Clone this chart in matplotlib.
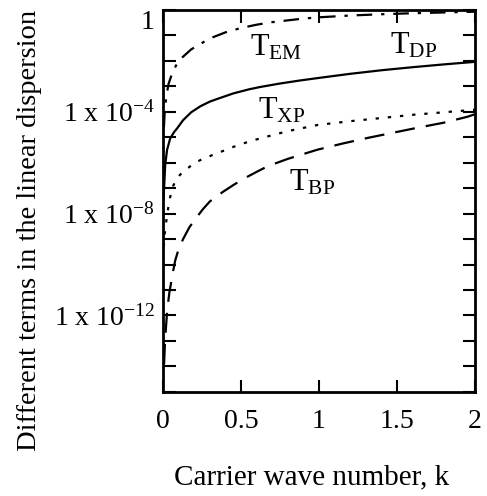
import numpy as np
import matplotlib
matplotlib.use('Agg')
import matplotlib.pyplot as plt
import matplotlib.transforms as mtransforms

plt.rcParams['font.family'] = ['Liberation Serif', 'DejaVu Serif']
plt.rcParams['mathtext.fontset'] = 'custom'
plt.rcParams['mathtext.rm'] = 'Liberation Serif'
plt.rcParams['mathtext.it'] = 'Liberation Serif:italic'

# curves: k and log10 of each term
k_em = [0.005, 0.01, 0.02, 0.035, 0.06, 0.09, 0.12, 0.18, 0.24, 0.3, 0.4, 0.5, 0.6, 0.7,
        0.8, 0.9, 1.0, 1.2, 1.4, 1.6, 1.8, 2.0]
log_em = [-4.6, -4.0, -3.4, -2.9, -2.45, -2.1, -1.88, -1.55, -1.33, -1.12, -0.88, -0.71, -0.58,
          -0.48, -0.41, -0.34, -0.29, -0.22, -0.17, -0.13, -0.1, -0.07]

k_dp = [0.003, 0.006, 0.013, 0.025, 0.045, 0.07, 0.09, 0.128, 0.18, 0.24, 0.3, 0.35, 0.45,
        0.55, 0.62, 0.75, 0.88, 1.0, 1.2, 1.4, 1.6, 1.8, 2.0]
log_dp = [-7.4, -7.0, -6.1, -5.5, -5.05, -4.8, -4.65, -4.33, -4.02, -3.78, -3.6, -3.49, -3.28,
          -3.12, -3.03, -2.89, -2.77, -2.67, -2.51, -2.37, -2.25, -2.14, -2.04]

k_xp = [0.004, 0.01, 0.02, 0.032, 0.045, 0.065, 0.09, 0.12, 0.154, 0.19, 0.25, 0.3, 0.38,
        0.45, 0.56, 0.67, 0.8, 0.99, 1.2, 1.41, 1.6, 1.84, 2.0]
log_xp = [-9.3, -8.8, -8.3, -7.8, -7.35, -6.9, -6.6, -6.4, -6.24, -6.06, -5.86, -5.74, -5.55,
          -5.38, -5.15, -4.97, -4.76, -4.52, -4.37, -4.24, -4.12, -4.0, -3.92]

k_bp = [0.006, 0.013, 0.026, 0.04, 0.05, 0.058, 0.077, 0.1, 0.128, 0.17, 0.218, 0.256, 0.3,
        0.385, 0.45, 0.52, 0.6, 0.67, 0.8, 0.99, 1.15, 1.31, 1.47, 1.63, 1.8, 1.95, 2.0]
log_bp = [-13.9, -12.9, -11.8, -11.1, -10.75, -10.45, -9.85, -9.38, -9.0, -8.52, -8.12, -7.82,
          -7.52, -7.14, -6.88, -6.62, -6.36, -6.14, -5.85, -5.49, -5.25, -5.03, -4.83, -4.63,
          -4.43, -4.2, -4.1]

x_ticks = [0, 0.5, 1, 1.5, 2]
x_labels = ['0', '0.5', '1', '1.5', '2']
y_exps = list(range(0, -16, -1))
y_labels = {0: '1', -4: r'1 x 10$^{-4}$', -8: r'1 x 10$^{-8}$', -12: r'1 x 10$^{-12}$'}

fig = plt.figure(figsize=(4.87, 4.96), dpi=100)
ax = fig.add_axes([0.335, 0.21, 0.64, 0.77])

ax.semilogy(k_em, 10.0 ** np.array(log_em), color='black', lw=1.6, dashes=(7, 4, 1.5, 4))
ax.semilogy(k_dp, 10.0 ** np.array(log_dp), color='black', lw=1.6)
ax.semilogy(k_xp, 10.0 ** np.array(log_xp), color='black', lw=1.6, dashes=(1.5, 4))
ax.semilogy(k_bp, 10.0 ** np.array(log_bp), color='black', lw=1.6, dashes=(9, 5))

ax.set_xlim(0, 2)
ax.set_ylim(1e-15, 1)
ax.set_xticks(x_ticks)
ax.set_xticklabels(x_labels)
ax.set_yticks([10.0 ** e for e in y_exps])
ax.set_yticklabels([y_labels.get(e, '') for e in y_exps])
ax.yaxis.set_minor_locator(matplotlib.ticker.NullLocator())

ax.tick_params(direction='in', length=9, width=1.5, labelsize=20,
               top=True, right=True)
ax.tick_params(axis='x', pad=12)
ax.tick_params(axis='y', pad=6)
for s in ax.spines.values():
    s.set_linewidth(2)

# the "1" label sits a little below its tick in the original
top_lbl = ax.yaxis.get_major_ticks()[0].label1
top_lbl.set_transform(top_lbl.get_transform() +
                      mtransforms.ScaledTranslation(0, -7 / 72, fig.dpi_scale_trans))

ax.text(0.56, 10 ** -1.5, r'T$_{\rm EM}$', fontsize=22, va='center')
ax.text(1.455, 10 ** -1.4, r'T$_{\rm DP}$', fontsize=22, va='center')
ax.text(0.61, 10 ** -3.95, r'T$_{\rm XP}$', fontsize=22, va='center')
ax.text(0.81, 10 ** -6.8, r'T$_{\rm BP}$', fontsize=22, va='center')

fig.text(0.64, 1 - 477 / 496, 'Carrier wave number, k', fontsize=21, ha='center', va='center')
fig.text(30 / 487, 1 - 230 / 496, 'Different terms in the linear dispersion', fontsize=20.5,
         rotation=90, ha='center', va='center')

fig.savefig('out.png', dpi=100)
